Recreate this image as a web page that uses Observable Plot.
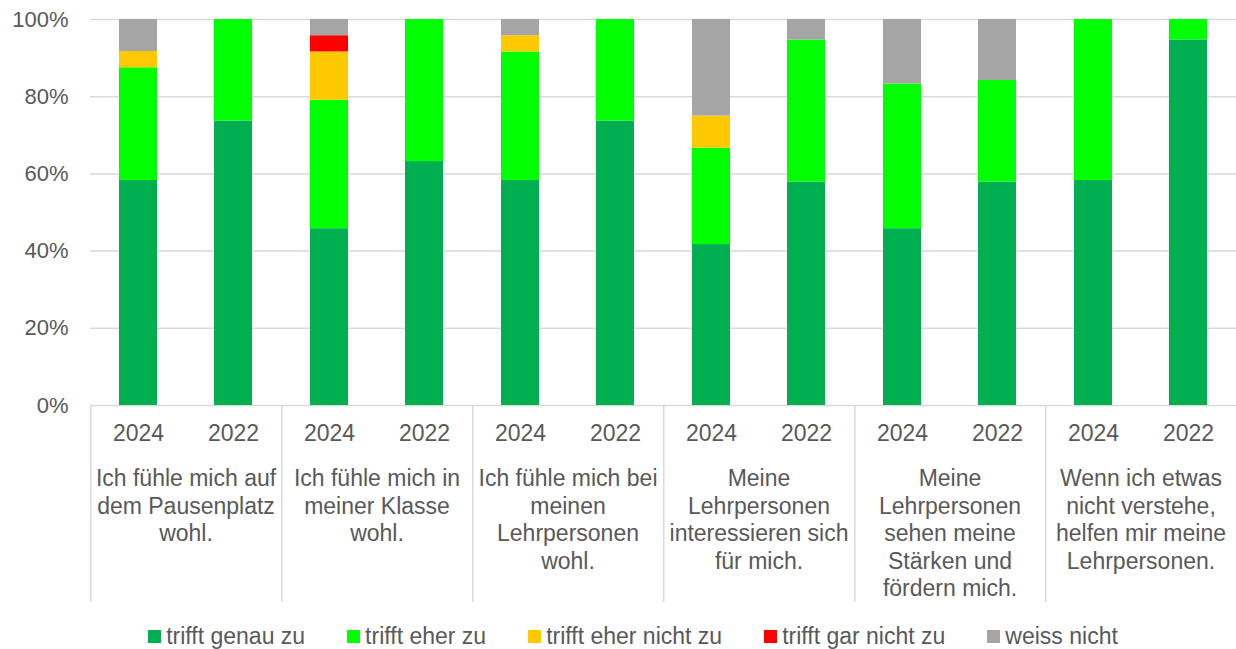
<!DOCTYPE html>
<html>
<head>
<meta charset="utf-8">
<script src="https://cdn.jsdelivr.net/npm/d3@7"></script>
<script src="https://cdn.jsdelivr.net/npm/@observablehq/plot@0.6"></script>
<style>
  body { margin: 0; background: #fff; font-family: "Liberation Sans", Arial, sans-serif; color: #595959; }
  #legend { display: flex; justify-content: center; align-items: center; height: 25px; font-size: 23px; padding-left: 30px; }
  #legend .item { display: flex; align-items: center; margin: 0 21px; white-space: nowrap; }
  #legend .sw { width: 13px; height: 13px; margin-right: 5px; }
</style>
</head>
<body>
<div id="chart"></div>
<div id="legend"></div>
<script>
const categories = [
  "Ich fühle mich auf\ndem Pausenplatz\nwohl.",
  "Ich fühle mich in\nmeiner Klasse\nwohl.",
  "Ich fühle mich bei\nmeinen\nLehrpersonen\nwohl.",
  "Meine\nLehrpersonen\ninteressieren sich\nfür mich.",
  "Meine\nLehrpersonen\nsehen meine\nStärken und\nfördern mich.",
  "Wenn ich etwas\nnicht verstehe,\nhelfen mir meine\nLehrpersonen."
];
const years = ["2024", "2022"];
const responses = ["trifft genau zu", "trifft eher zu", "trifft eher nicht zu", "trifft gar nicht zu", "weiss nicht"];
const colors = ["#00B050", "#00FF00", "#FFC800", "#FF0000", "#A5A5A5"];

// values in %, order: category1 2024, category1 2022, category2 2024, ...
const trifftGenauZu     = [58.3, 73.7, 45.8, 63.2, 58.3, 73.7, 41.7, 57.9, 45.8, 57.9, 58.3, 94.7];
const trifftEherZu      = [29.2, 26.3, 33.3, 36.8, 33.3, 26.3, 25.0, 36.8, 37.5, 26.3, 41.7, 5.3];
const trifftEherNichtZu = [4.2, 0, 12.5, 0, 4.2, 0, 8.3, 0, 0, 0, 0, 0];
const trifftGarNichtZu  = [0, 0, 4.2, 0, 0, 0, 0, 0, 0, 0, 0, 0];
const weissNicht        = [8.3, 0, 4.2, 0, 4.2, 0, 25.0, 5.3, 16.7, 15.8, 0, 0];
const yTicks = [0, 0.2, 0.4, 0.6, 0.8, 1];

const series = [trifftGenauZu, trifftEherZu, trifftEherNichtZu, trifftGarNichtZu, weissNicht];
const data = [];
categories.forEach((cat, ci) => {
  years.forEach((yr, yi) => {
    const idx = ci * 2 + yi;
    responses.forEach((r, ri) => {
      data.push({cat, year: yr, resp: r, value: series[ri][idx] / 100});
    });
  });
});

const W = 1236, H = 624;
const facetW = (W - 90) / categories.length;

const chart = Plot.plot({
  width: W,
  height: H,
  marginLeft: 90,
  marginRight: 0,
  marginTop: 19,
  marginBottom: H - 405,
  style: {fontFamily: '"Liberation Sans", Arial, sans-serif', fontSize: "23px", color: "#595959", background: "#fff"},
  fx: {domain: categories, padding: 0, axis: null},
  x: {domain: years, paddingInner: 0.6, paddingOuter: 0.3},
  y: {domain: [0, 1]},
  color: {domain: responses, range: colors},
  marks: [
    Plot.ruleY(yTicks, {stroke: "#d9d9d9", strokeWidth: 1.5}),
    Plot.barY(data, {fx: "cat", x: "year", y: "value", fill: "resp", order: responses}),
    Plot.axisY(yTicks, {tickFormat: d3.format(".0%"), tickSize: 0, tickPadding: 22, fontSize: 22, label: null, facetAnchor: "left"}),
    Plot.axisX({tickSize: 0, tickPadding: 19, label: null, fontSize: 23}),
    Plot.ruleX(categories, {fx: d => d, x: () => years[0], dx: -facetW / 4, y1: 0, y2: -0.51, stroke: "#d9d9d9", strokeWidth: 1.5}),
    Plot.text(categories, {fx: d => d, text: d => d, y: () => 0, dy: 61, lineAnchor: "top", lineHeight: 1.2, fontSize: 23, fill: "#595959", textAnchor: "middle"})
  ]
});
document.getElementById("chart").appendChild(chart);

const legend = document.getElementById("legend");
responses.forEach((r, i) => {
  const item = document.createElement("div");
  item.className = "item";
  const sw = document.createElement("span");
  sw.className = "sw";
  sw.style.background = colors[i];
  item.appendChild(sw);
  item.appendChild(document.createTextNode(r));
  legend.appendChild(item);
});
</script>
</body>
</html>
